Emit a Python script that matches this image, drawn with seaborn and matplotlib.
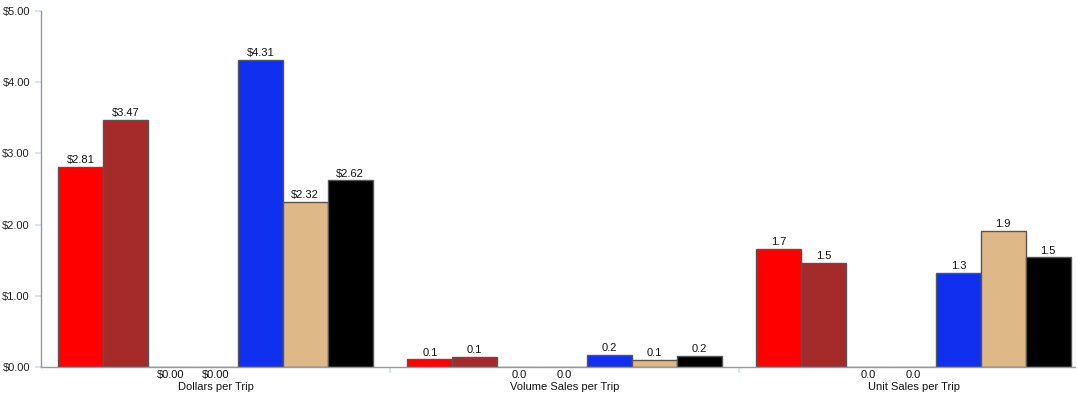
import matplotlib
matplotlib.use("Agg")
import matplotlib.pyplot as plt
import seaborn as sns
import pandas as pd
import numpy as np

categories = ["Dollars per Trip", "Volume Sales per Trip", "Unit Sales per Trip"]
series = ["S1", "S2", "S3", "S4", "S5", "S6", "S7"]
colors = ["#FF0000", "#A52A2A", "#808080", "#C0C0C0", "#1030F0", "#DEB887", "#000000"]
values = {
    "S1": [2.81, 0.11, 1.66],
    "S2": [3.47, 0.14, 1.46],
    "S3": [0.00, 0.00, 0.00],
    "S4": [0.00, 0.00, 0.00],
    "S5": [4.31, 0.17, 1.32],
    "S6": [2.32, 0.10, 1.91],
    "S7": [2.62, 0.155, 1.54],
}
label_fmt = ["${:.2f}", "{:.1f}", "{:.1f}"]
y_ticks = [0, 1, 2, 3, 4, 5]
y_ticklabels = ["$0.00", "$1.00", "$2.00", "$3.00", "$4.00", "$5.00"]

rows = []
for s in series:
    for c, v in zip(categories, values[s]):
        rows.append({"category": c, "series": s, "value": v})
df = pd.DataFrame(rows)

sns.set_style("white")
plt.rcParams['font.family'] = ['Liberation Sans', 'DejaVu Sans']
FS = 8

fig = plt.figure(figsize=(10.77, 3.99), dpi=100)
ax = fig.add_axes([41/1077, 32/399, 1034/1077, 356/399])

sns.barplot(data=df, x="category", y="value", hue="series", order=categories,
            hue_order=series, palette=colors, width=0.9, ax=ax, saturation=1,
            edgecolor="#555555", linewidth=1.0, legend=False, errorbar=None)

ax.set_ylim(0, 5)
ax.set_xlim(-0.5, -0.5 + 1034/349)
ax.set_yticks(y_ticks)
ax.set_yticklabels(y_ticklabels, fontsize=FS, color="#222222")
ax.tick_params(axis="y", length=4, width=1.5, color="#D8E4F2", pad=4, left=True)
ax.set_xticks([0.5, 1.5])
ax.set_xticklabels(["", ""])
ax.tick_params(axis="x", length=4, width=1.5, color="#D8E4F2", direction="out", bottom=True)
ax.set_xlabel("")
ax.set_ylabel("")
for sp in ["top", "right"]:
    ax.spines[sp].set_visible(False)
for sp in ["left", "bottom"]:
    ax.spines[sp].set_color("#999999")
    ax.spines[sp].set_linewidth(1.0)

for ci, c in enumerate(categories):
    ax.text(ci, -0.215, c, ha="center", va="top", fontsize=FS, color="#111111")

for container, s in zip(ax.containers, series):
    for ci, bar in enumerate(container):
        v = values[s][ci]
        xc = bar.get_x() + bar.get_width() / 2
        txt = label_fmt[ci].format(v)
        if v == 0:
            ax.text(xc, -0.045, txt, ha="center", va="top", fontsize=FS, color="#111111")
        else:
            ax.annotate(txt, (xc, v), xytext=(0, 1.2), textcoords="offset points",
                        ha="center", va="bottom", fontsize=FS, color="#111111")

fig.savefig("out.png", dpi=100)
